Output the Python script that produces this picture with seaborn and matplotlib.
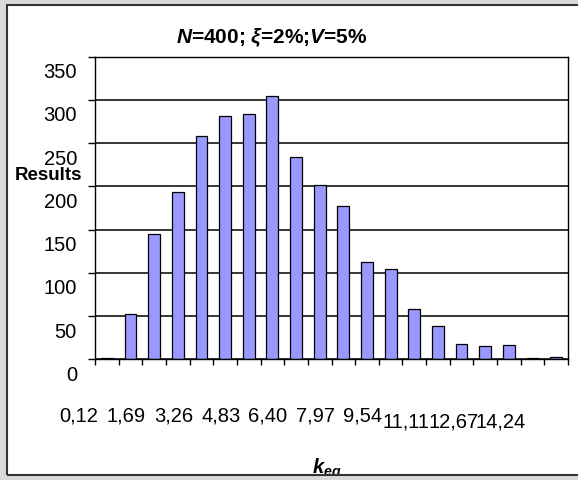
import matplotlib
matplotlib.use('Agg')
import matplotlib.pyplot as plt
import matplotlib.transforms as mtransforms
from matplotlib.patches import Rectangle
import seaborn as sns

# histogram bins (k_eq) and number of results in each
bins = ["0,12", "0,90", "1,69", "2,48", "3,26", "4,04", "4,83", "5,61", "6,40", "7,18",
        "7,97", "8,75", "9,54", "10,33", "11,11", "11,89", "12,67", "13,46", "14,24", "15,03"]
results = [2, 52, 145, 194, 258, 281, 284, 305, 234, 202,
           177, 112, 105, 58, 39, 18, 15, 17, 2, 3]
shown_labels = bins[::2]          # Excel only prints every other category
y_ticks = [0, 50, 100, 150, 200, 250, 300, 350]

sns.set_theme(style='white')
plt.rcParams['font.family'] = ['Liberation Sans', 'DejaVu Sans']
plt.rcParams['text.color'] = 'black'
plt.rcParams['xtick.color'] = 'black'
plt.rcParams['ytick.color'] = 'black'
plt.rcParams['mathtext.fontset'] = 'custom'
plt.rcParams['mathtext.it'] = 'Liberation Sans:bold:italic'
plt.rcParams['mathtext.rm'] = 'Liberation Sans:bold'
plt.rcParams['mathtext.bf'] = 'Liberation Sans:bold'

W, H = 578, 480
bg = '#d9d9d9'
fig = plt.figure(figsize=(W / 100, H / 100), dpi=100, facecolor=bg)

# white chart area behind everything
fig.patches.append(Rectangle((7 / W, 5 / H), 1, 470 / H, transform=fig.transFigure,
                             facecolor='white', edgecolor='none', zorder=-1))

ax = fig.add_axes([95 / W, 1 - 359.3 / H, 473 / W, 302.6 / H])
sns.barplot(x=bins, y=results, color='#9999ff', saturation=1, width=0.5,
            edgecolor='black', linewidth=0.9, ax=ax)

ax.set_xlim(-0.5, len(bins) - 0.5)
ax.set_ylim(0, 350)
ax.set_xlabel('')
ax.set_ylabel('')
ax.set_facecolor('white')
ax.yaxis.grid(True, color='black', linewidth=1.1)
ax.set_axisbelow(True)
for sp in ax.spines.values():
    sp.set_visible(True)
    sp.set_color('black')
    sp.set_linewidth(1)

# y axis: Excel puts the numbers a bit below their gridlines
ax.set_yticks(y_ticks)
ax.tick_params(axis='y', length=5, width=1, color='black', direction='out',
               labelsize=14.5, pad=8, left=True)
down = mtransforms.ScaledTranslation(0, -0.14, fig.dpi_scale_trans)
for lab in ax.get_yticklabels():
    lab.set_transform(lab.get_transform() + down)

# x axis: tick marks between categories, labels on every second bar
ax.set_xticks([i - 0.5 for i in range(len(bins) + 1)], labels=[''] * (len(bins) + 1))
ax.set_xticks(list(range(0, len(bins), 2)), labels=shown_labels, minor=True)
ax.tick_params(axis='x', which='major', length=4.3, width=1, color='black',
               direction='out', bottom=True)
ax.tick_params(axis='x', which='minor', length=0, labelsize=14.5, pad=0, bottom=True)
for i, lab in enumerate(ax.get_xticklabels(minor=True)):
    if i < 7:
        dx, dy = -0.28, -0.47
    else:
        dx, dy = -0.32, -0.53
    lab.set_transform(lab.get_transform() +
                      mtransforms.ScaledTranslation(dx, dy, fig.dpi_scale_trans))

fig.text(49 / W, 1 - 176 / H, 'Results', ha='center', va='center',
         fontweight='bold', fontsize=13.5)
fig.text(272 / W, 1 - 43.3 / H, r'$N$=400; $\xi$=2%;$V$=5%', ha='center',
         va='baseline', fontsize=15, fontweight='bold')
fig.text(327 / W, 6 / H, r'$k_{eq}$', ha='center', va='baseline',
         fontsize=14.5, zorder=3)

# bottom gray strip hides the tail of the axis title, like the original
fig.patches.append(Rectangle((0, 0), 1, 5 / H, transform=fig.transFigure,
                             facecolor=bg, edgecolor='none', zorder=4))
fig.patches.append(Rectangle((7 / W, 5 / H), 1, 470 / H, transform=fig.transFigure,
                             fill=False, edgecolor='#333333', linewidth=1.5, zorder=5))

fig.savefig('out.png', dpi=100, facecolor=fig.get_facecolor())
